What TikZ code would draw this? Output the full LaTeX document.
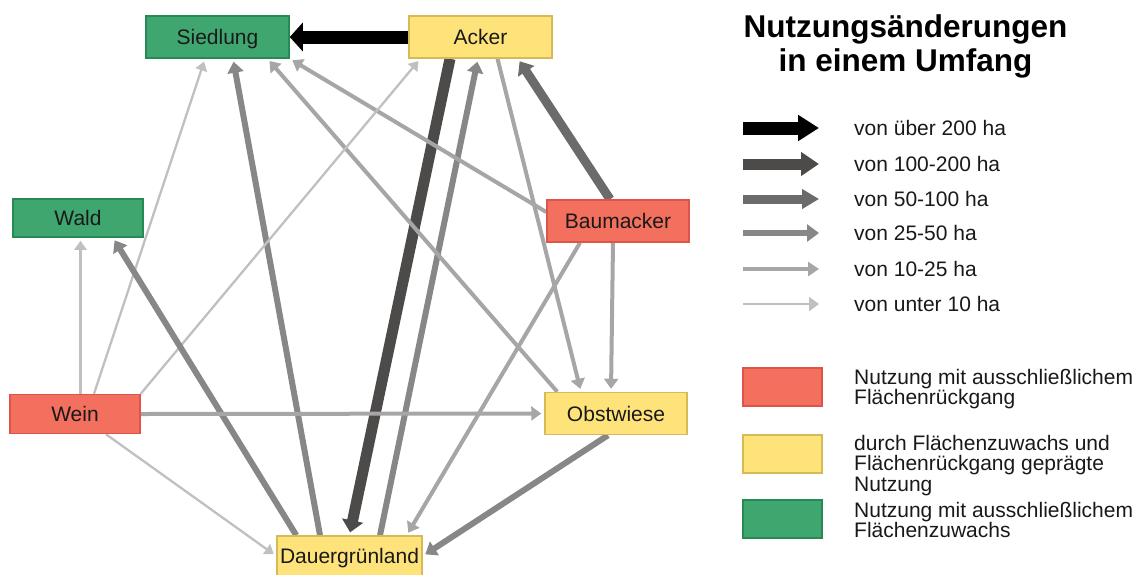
\documentclass[tikz,border=0pt]{standalone}
\usepackage{fontspec}
\setmainfont{Liberation Sans}
\usetikzlibrary{arrows.meta}
\pgfdeclarelayer{bg}
\pgfsetlayers{bg,main}
\definecolor{gfill}{RGB}{64,166,112}
\definecolor{gdraw}{RGB}{38,138,84}
\definecolor{yfill}{RGB}{254,226,122}
\definecolor{ydraw}{RGB}{214,186,84}
\definecolor{rfill}{RGB}{243,112,94}
\definecolor{rdraw}{RGB}{222,84,72}
\definecolor{cB}{RGB}{77,75,74}
\definecolor{cC}{RGB}{107,107,107}
\definecolor{cD}{RGB}{135,135,135}
\definecolor{cE}{RGB}{166,166,166}
\definecolor{cF}{RGB}{192,192,192}
\definecolor{txt}{RGB}{25,25,25}
\begin{document}
\begin{tikzpicture}[x=1pt,y=-1pt,
  box/.style={draw, line width=1.5pt, inner sep=0pt, text height=15pt, text depth=0pt,
    font=\fontsize{21}{22}\selectfont, text=txt},
  gbox/.style={box, fill=gfill, draw=gdraw},
  ybox/.style={box, fill=yfill, draw=ydraw},
  rbox/.style={box, fill=rfill, draw=rdraw},
  swatch/.style={draw, line width=1.5pt, minimum width=79pt, minimum height=38pt, inner sep=0pt},
  ltext/.style={anchor=base west, inner sep=0pt, align=left, text=txt,
    font=\fontsize{21}{20.5}\selectfont},
  wA/.style={line width=13pt, black, -{Triangle[length=13pt,width=28pt]}},
  wB/.style={line width=11pt, cB, -{Triangle[length=12pt,width=21pt]}, shorten >=3pt},
  wC/.style={line width=9pt, cC, -{Triangle[length=12pt,width=19pt]}, shorten >=3pt},
  wD/.style={line width=6pt, cD, -{Triangle[length=11pt,width=16pt]}, shorten >=3pt},
  wE/.style={line width=4pt, cE, -{Triangle[length=10pt,width=14pt]}, shorten >=3pt},
  wF/.style={line width=2.3pt, cF, -{Triangle[length=9pt,width=12pt]}, shorten >=3pt},
  lA/.style={line width=13pt, black, -{Triangle[length=21pt,width=25pt]}},
  lB/.style={line width=11pt, cB, -{Triangle[length=18pt,width=23pt]}},
  lC/.style={line width=9pt, cC, -{Triangle[length=17pt,width=19pt]}},
  lD/.style={line width=6pt, cD, -{Triangle[length=12pt,width=17pt]}},
  lE/.style={line width=4pt, cE, -{Triangle[length=11pt,width=14pt]}},
  lF/.style={line width=2.5pt, cF, -{Triangle[length=10pt,width=14pt]}},
]
\useasboundingbox (0,0) rectangle (1146,574);
\clip (0,0) rectangle (1146,574);

% nodes
\node[gbox, minimum width=143pt, minimum height=42pt] (sied) at (217.5,37) {Siedlung};
\node[ybox, minimum width=143pt, minimum height=42pt] (acker) at (480.5,37) {Acker};
\node[gbox, minimum width=130pt, minimum height=38pt] (wald) at (78,218) {Wald};
\node[rbox, minimum width=142pt, minimum height=42pt] (baum) at (618,221) {Baumacker};
\node[rbox, minimum width=130pt, minimum height=39pt] (wein) at (75,414) {Wein};
\node[ybox, minimum width=142pt, minimum height=42pt] (obst) at (616,413.5) {Obstwiese};
\node[ybox, minimum width=145pt, minimum height=40pt] (dauer) at (349.5,556) {Dauergrünland};

% connectors
\begin{pgfonlayer}{bg}
\draw[wA] (acker.west) -- (sied.east);
\draw[wB] ([xshift=-30.5pt]acker.south) -- (dauer.north);
\draw[wD] ([xshift=30.5pt]dauer.north) -- ([xshift=-2.5pt]acker.south);
\draw[wC] ([xshift=-8pt]baum.north) -- ([xshift=37.5pt]acker.south);
\draw[wE] ([xshift=17pt]acker.south) -- ([xshift=-35pt]obst.north);
\draw[wE] ([xshift=-5pt]baum.south) -- ([xshift=-5pt]obst.north);
\draw[wE] ([yshift=9pt]baum.west) -- (sied.south east);
\draw[wE] ([xshift=13pt]obst.north west) -- ([xshift=50pt]sied.south);
\draw[wD] ([xshift=-29.5pt]dauer.north) -- ([xshift=15.5pt]sied.south);
\draw[wF] ([xshift=19pt]wein.north) -- ([xshift=-12.5pt]sied.south);
\draw[wF] (wein.north east) -- ([xshift=12pt]acker.south west);
\draw[wF] ([xshift=5.5pt]wein.north) -- ([xshift=2.5pt]wald.south);
\draw[wD] ([xshift=20pt]dauer.north west) -- ([xshift=35pt]wald.south);
\draw[wE] (wein.east) -- (obst.west);
\draw[wF] ([xshift=31pt]wein.south) -- (dauer.west);
\draw[wE] ([xshift=-38pt]baum.south) -- ([xshift=-16pt]dauer.north east);
\draw[wD] ([xshift=-8pt]obst.south) -- (dauer.east);
\end{pgfonlayer}

% title
\node[anchor=base, inner sep=0pt, text=black, font=\fontsize{31.5}{35}\bfseries\selectfont] (t1) at (905.5,37) {Nutzungsänderungen};
\node[anchor=base, inner sep=0pt, text=black, font=\fontsize{31.5}{35}\bfseries\selectfont] (t2) at (905.5,71) {in einem Umfang};

% legend arrows
\foreach \n/\y/\s/\t in {1/128/lA/von über 200 ha, 2/164/lB/von 100-200 ha, 3/199/lC/von 50-100 ha,
                         4/233/lD/von 25-50 ha, 5/269/lE/von 10-25 ha, 6/304/lF/von unter 10 ha}{
  \coordinate (ls\n) at (743,\y);
  \coordinate (le\n) at (819,\y);
  \draw[\s] (ls\n) -- (le\n);
  \node[ltext] (lt\n) at (854,\y+7.5) {\t};
}

% legend swatches (text anchored at baseline of last line)
\node[swatch, fill=rfill, draw=rdraw] (sr) at (782.5,387) {};
\node[swatch, fill=yfill, draw=ydraw] (sy) at (782.5,454) {};
\node[swatch, fill=gfill, draw=gdraw] (sg) at (782.5,519) {};
\node[ltext] (tr) at (854,404.5) {Nutzung mit ausschließlichem\\Flächenrückgang};
\node[ltext] (ty) at (854,491) {durch Flächenzuwachs und\\Flächenrückgang geprägte\\Nutzung};
\node[ltext] (tg) at (854,537.5) {Nutzung mit ausschließlichem\\Flächenzuwachs};
\end{tikzpicture}
\end{document}
